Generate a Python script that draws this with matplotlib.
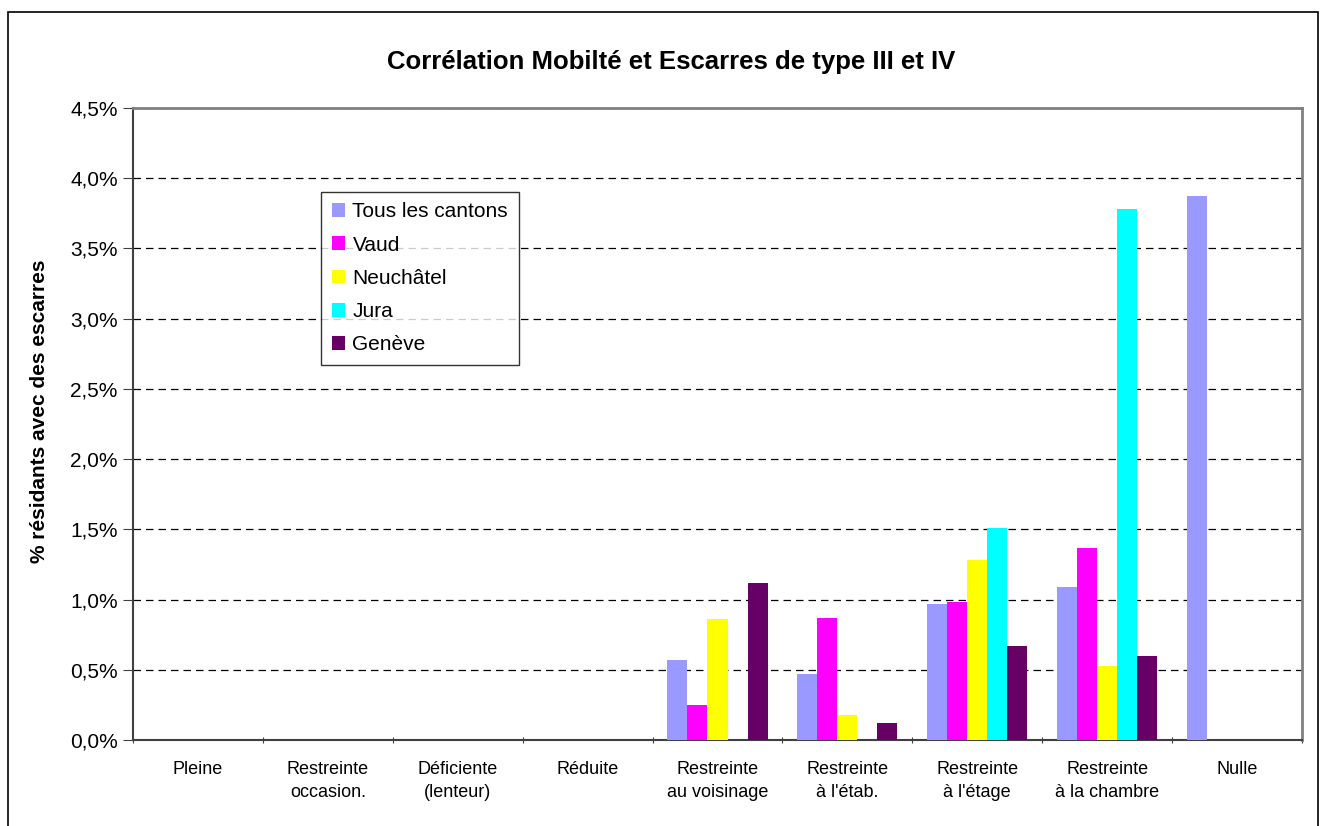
import matplotlib.pyplot as plt
import numpy as np
from matplotlib.ticker import FuncFormatter, FixedLocator, NullFormatter
from matplotlib.patches import Rectangle

plt.rcParams['font.family'] = ['Liberation Sans', 'DejaVu Sans']

categories = ["Pleine", "Restreinte\noccasion.", "Déficiente\n(lenteur)", "Réduite",
              "Restreinte\nau voisinage", "Restreinte\nà l'étab.", "Restreinte\nà l'étage",
              "Restreinte\nà la chambre", "Nulle"]
series = ["Tous les cantons", "Vaud", "Neuchâtel", "Jura", "Genève"]
tous = [0, 0, 0, 0, 0.57, 0.47, 0.97, 1.09, 3.87]
vaud = [0, 0, 0, 0, 0.25, 0.87, 0.98, 1.37, 0]
neuchatel = [0, 0, 0, 0, 0.86, 0.18, 1.28, 0.53, 0]
jura = [0, 0, 0, 0, 0, 0, 1.51, 3.78, 0]
geneve = [0, 0, 0, 0, 1.12, 0.12, 0.67, 0.60, 0]
colors = ["#9999ff", "#ff00ff", "#ffff00", "#00ffff", "#660066"]

fig = plt.figure(figsize=(13.23, 8.26), dpi=100)
W, H = 1323, 826
ax = fig.add_axes([133 / W, 1 - 740 / H, (1302 - 133) / W, (740 - 108) / H])

# border round the whole chart
fig.patches.append(Rectangle((8 / W, -0.05), (1318 - 8) / W, 1 - 12 / H + 0.05,
                             transform=fig.transFigure, fill=False,
                             edgecolor="black", linewidth=1.2))

x = np.arange(len(categories))
bw = 0.154
for i, (vals, name) in enumerate(zip([tous, vaud, neuchatel, jura, geneve], series)):
    ax.bar(x + (i - 2) * bw, vals, bw, color=colors[i], label=name, zorder=3)

ax.set_xlim(-0.5, len(categories) - 0.5)
ax.set_ylim(0, 4.5)
ax.set_yticks(np.arange(0, 4.51, 0.5))
ax.yaxis.set_major_formatter(FuncFormatter(lambda v, p: f"{v:.1f}%".replace(".", ",")))
ax.yaxis.grid(True, linestyle=(0, (6, 4)), color="black", linewidth=0.9)
ax.set_axisbelow(True)

ax.xaxis.set_major_locator(FixedLocator(np.arange(-0.5, len(categories), 1)))
ax.xaxis.set_major_formatter(NullFormatter())
ax.set_xticks(x, minor=True)
ax.set_xticklabels(categories, minor=True, fontsize=13, linespacing=1.45)
ax.tick_params(axis="x", which="minor", length=0, pad=15)
ax.tick_params(axis="x", which="major", length=5, direction="inout", color="#404040")
ax.tick_params(axis="y", length=7, direction="out", color="#404040", labelsize=15, pad=4)

for s in ["top", "right"]:
    ax.spines[s].set_color("#808080")
    ax.spines[s].set_linewidth(2)
for s in ["left", "bottom"]:
    ax.spines[s].set_color("#404040")
    ax.spines[s].set_linewidth(1.5)

ax.set_ylabel("% résidants avec des escarres", fontsize=15, fontweight="bold")
ax.yaxis.set_label_coords(-0.072, 0.52)
fig.text(671 / W, 1 - 62 / H, "Corrélation Mobilté et Escarres de type III et IV",
         ha="center", va="center", fontsize=18.5, fontweight="bold")

leg = ax.legend(loc="upper left", bbox_to_anchor=(0.161, 0.867), fontsize=15,
                frameon=True, fancybox=False, edgecolor="black", handlelength=0.65,
                handleheight=0.65, handletextpad=0.35, labelspacing=0.68, borderpad=0.5,
                borderaxespad=0)
leg.get_frame().set_linewidth(1)

fig.savefig("out.png", dpi=100)
